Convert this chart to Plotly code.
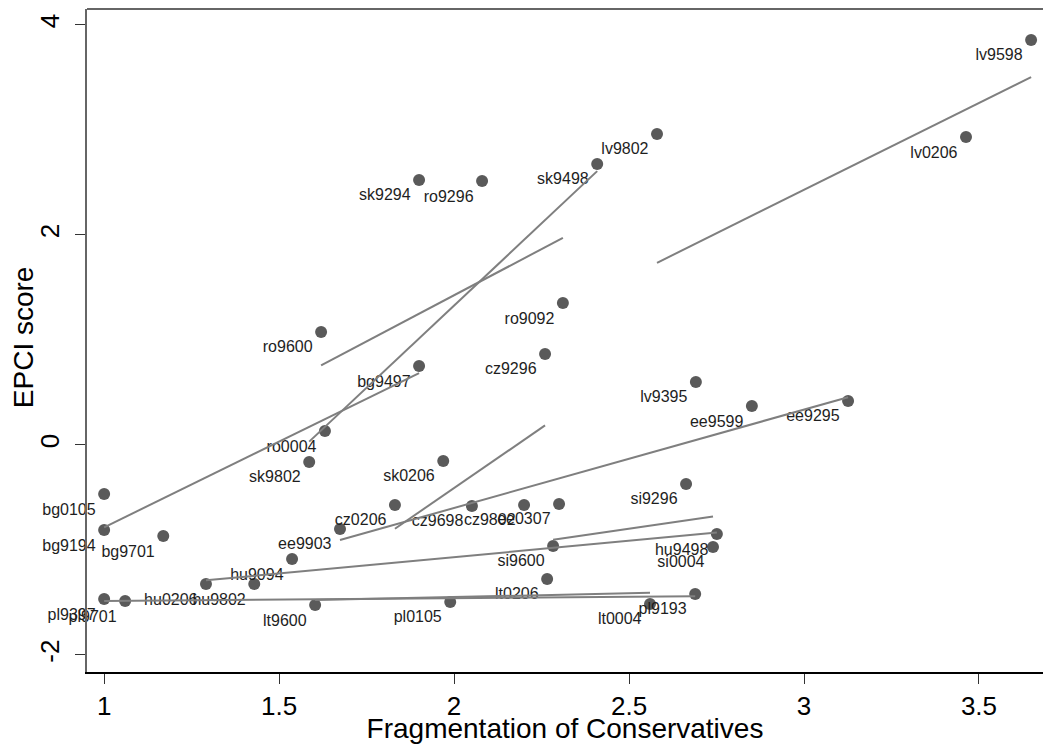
import numpy as np
import plotly.graph_objects as go

# ---- data ----
labels = ["lv9598", "lv0206", "lv9802", "lv9395",
          "sk9498", "sk9294", "sk9802", "sk0206",
          "ro9296", "ro9092", "ro9600", "ro0004",
          "cz9296", "cz0206", "cz9698", "cz9802",
          "bg9497", "bg0105", "bg9194", "bg9701",
          "ee9599", "ee9295", "ee9903", "ee0307",
          "si9296", "si9600", "si0004",
          "hu9498", "hu9094", "hu0206", "hu9802",
          "pl9397", "pl9701", "pl0105", "pl9193",
          "lt9600", "lt0206", "lt0004"]
frag = [3.649, 3.463, 2.580, 2.691,
        2.409, 1.900, 1.586, 1.969,
        2.080, 2.311, 1.620, 1.631,
        2.260, 1.831, 2.051, 2.200,
        1.900, 1.000, 1.000, 1.169,
        2.851, 3.126, 1.674, 2.300,
        2.663, 2.283, 2.740,
        2.751, 1.537, 1.291, 1.429,
        1.000, 1.060, 1.989, 2.689,
        1.603, 2.266, 2.560]
epci = [3.857, 2.933, 2.962, 0.600,
        2.676, 2.524, -0.162, -0.152,
        2.514, 1.352, 1.076, 0.133,
        0.867, -0.571, -0.581, -0.571,
        0.752, -0.467, -0.810, -0.867,
        0.371, 0.419, -0.800, -0.562,
        -0.371, -0.962, -0.971,
        -0.848, -1.086, -1.324, -1.324,
        -1.467, -1.486, -1.495, -1.419,
        -1.524, -1.276, -1.514]
countries = ["lv", "sk", "ro", "cz", "bg", "ee", "si", "hu", "pl", "lt"]
x_title = "Fragmentation of Conservatives"
y_title = "EPCI score"

FONT = "Liberation Sans, Arial, sans-serif"

fig = go.Figure()

# scatter with labels
fig.add_trace(go.Scatter(
    x=frag, y=epci, mode="markers+text", text=labels,
    textposition="bottom left",
    textfont=dict(family=FONT, size=16, color="#1e1e1e"),
    marker=dict(size=12, color="#5a5a5a"),
    cliponaxis=False, showlegend=False, hoverinfo="x+y+text"))

# linear fits per country
fx = np.array(frag)
fy = np.array(epci)
cc = np.array([l[:2] for l in labels])
for c in countries:
    m = cc == c
    xs, ys = fx[m], fy[m]
    b, a = np.polyfit(xs, ys, 1)
    xe = np.array([xs.min(), xs.max()])
    fig.add_trace(go.Scatter(
        x=xe, y=a + b * xe, mode="lines",
        line=dict(color="#7f7f7f", width=2),
        showlegend=False, hoverinfo="skip"))

fig.update_layout(
    width=1043, height=744,
    margin=dict(l=87, r=0, t=9, b=72),
    paper_bgcolor="white", plot_bgcolor="white",
    font=dict(family=FONT, color="black"),
    shapes=[dict(type="line", xref="paper", yref="paper", x0=0, x1=1, y0=1, y1=1,
                 line=dict(color="#666666", width=2))],
    annotations=[dict(text=y_title, xref="paper", yref="paper",
                      x=-64 / 956, y=0.505, xanchor="center", yanchor="middle",
                      textangle=-90, showarrow=False,
                      font=dict(size=28, family=FONT, color="black"))],
)
fig.update_xaxes(
    range=[0.951, 3.683], automargin=False,
    tickvals=[1, 1.5, 2, 2.5, 3, 3.5], ticktext=["1", "1.5", "2", "2.5", "3", "3.5"],
    ticks="outside", ticklen=10, tickcolor="#333", tickwidth=1,
    tickfont=dict(size=26, family=FONT, color="black"),
    showline=True, linecolor="black", linewidth=2,
    showgrid=False, zeroline=False,
    title=dict(text=x_title, font=dict(size=28, family=FONT, color="black"), standoff=1),
)
fig.update_yaxes(
    range=[-2.162, 4.152], automargin=False,
    tickvals=[-2, 0, 2, 4], ticktext=["-2", "0", "2", "4"], tickangle=-90,
    ticks="outside", ticklen=10, tickcolor="#333", tickwidth=1, ticklabelstandoff=6,
    tickfont=dict(size=26, family=FONT, color="black"),
    showline=True, linecolor="#666666", linewidth=2,
    showgrid=False, zeroline=False,
)

fig.write_html("out.html", config={"displayModeBar": False},
               post_script="document.body.style.margin='0';")
